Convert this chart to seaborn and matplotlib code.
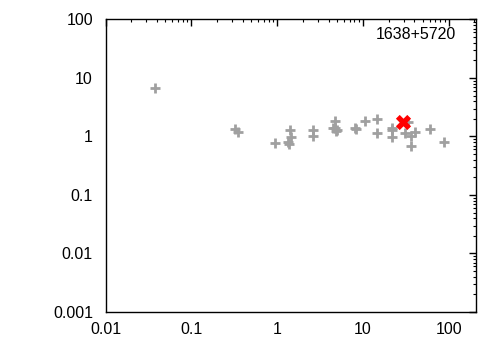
import matplotlib
matplotlib.use("Agg")
import matplotlib.pyplot as plt
import seaborn as sns
import pandas as pd

# gray reference points
x_vals = [0.0377, 0.32, 0.354, 0.95, 1.34, 1.37, 1.40, 1.46, 2.65, 2.65,
          4.75, 4.45, 4.75, 4.88, 5.0, 8.1, 8.3, 10.6, 14.6, 14.6,
          21.9, 21.9, 21.9, 33.2, 31.0, 36.4, 36.4, 40.5, 61.0, 88.7]
y_vals = [6.8, 1.34, 1.21, 0.766, 0.815, 0.745, 1.28, 0.99, 1.31, 1.02,
          1.84, 1.38, 1.42, 1.24, 1.30, 1.38, 1.33, 1.84, 1.97, 1.16,
          1.38, 1.28, 0.99, 1.78, 1.13, 1.02, 0.69, 1.18, 1.36, 0.815]
# highlighted source
hl_x = [29.6]
hl_y = [1.75]
label = "1638+5720"

sns.set_theme(style="white")
plt.rcParams['font.family'] = ['Liberation Sans', 'DejaVu Sans']

fig = plt.figure(figsize=(5, 3.5), dpi=100)
ax = fig.add_axes([0.211, 0.1086, 0.740, 0.8357])

df = pd.DataFrame({"x": x_vals, "y": y_vals})
sns.scatterplot(data=df, x="x", y="y", marker="+", color="#a0a0a0",
                s=60, linewidth=2, ax=ax, zorder=2)
hl = pd.DataFrame({"x": hl_x, "y": hl_y})
sns.scatterplot(data=hl, x="x", y="y", marker="X", color="red",
                s=120, linewidth=0, ax=ax, zorder=3)

ax.set_xscale("log")
ax.set_yscale("log")
ax.set_xlim(0.01, 206)
ax.set_ylim(0.001, 100)
ax.set_xticks([0.01, 0.1, 1, 10, 100])
ax.set_xticklabels(["0.01", "0.1", "1", "10", "100"])
ax.set_yticks([0.001, 0.01, 0.1, 1, 10, 100])
ax.set_yticklabels(["0.001", "0.01", "0.1", "1", "10", "100"])
ax.set_xlabel("")
ax.set_ylabel("")
ax.tick_params(which="both", direction="in", top=True, right=True,
               labelsize=11.5, colors="black")
ax.tick_params(axis="x", pad=7)
ax.tick_params(axis="y", pad=9)
ax.tick_params(which="major", length=5, width=1)
ax.tick_params(which="minor", length=2.5, width=0.8)
for sp in ax.spines.values():
    sp.set_color("black")
    sp.set_linewidth(1)

ax.text(0.947, 0.947, label, transform=ax.transAxes, ha="right", va="center",
        fontsize=11.5, color="black")

fig.savefig("out.png", dpi=100)
